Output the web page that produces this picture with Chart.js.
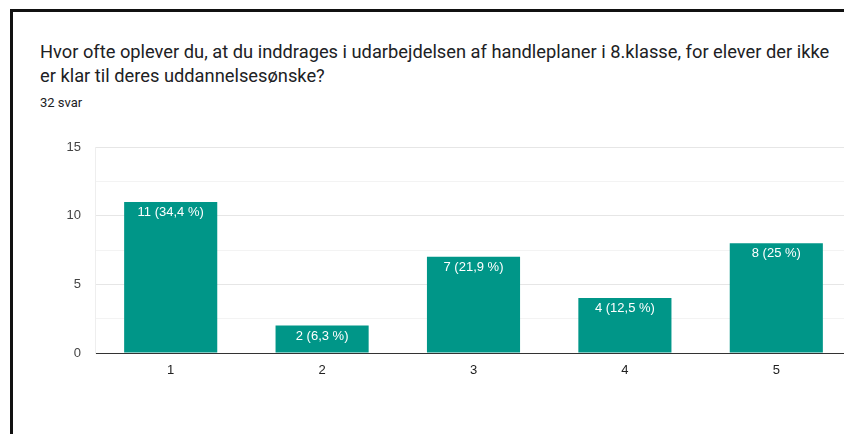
<!DOCTYPE html>
<html>
<head>
<meta charset="utf-8">
<script src="https://cdn.jsdelivr.net/npm/chart.js@4.4.0/dist/chart.umd.min.js"></script>
<style>
  html, body { margin: 0; padding: 0; background: #fff; overflow: hidden; width: 844px; height: 434px; }
  .ramme { position: absolute; left: 10px; top: 9px; width: 900px; height: 500px; border-top: 3px solid #111; border-left: 3px solid #111; }
  .titel { position: absolute; left: 40px; top: 39.5px; width: 810px; font-family: Roboto, sans-serif; font-size: 18.3px; line-height: 24.5px; color: #202124; white-space: nowrap; }
  .svar { position: absolute; left: 40px; top: 94.5px; font-family: Roboto, sans-serif; font-size: 13px; line-height: 16px; color: #202124; }
  #graf { position: absolute; left: 0; top: 125px; }
</style>
</head>
<body>
<div class="ramme"></div>
<div class="titel">Hvor ofte oplever du, at du inddrages i udarbejdelsen af handleplaner i 8.klasse, for elever der ikke<br>er klar til deres uddannelsesønske?</div>
<div class="svar">32 svar</div>
<canvas id="graf" width="880" height="309"></canvas>
<script>
const kategorier = ['1', '2', '3', '4', '5'];
const antal = [11, 2, 7, 4, 8];
const procent = ['34,4', '6,3', '21,9', '12,5', '25'];

// etiketter inde i toppen af hver søjle
const soejleTekst = {
  id: 'soejleTekst',
  afterDatasetsDraw(chart) {
    const ctx = chart.ctx;
    const meta = chart.getDatasetMeta(0);
    ctx.save();
    ctx.font = '13px "Liberation Sans", Arial, sans-serif';
    ctx.fillStyle = '#ffffff';
    ctx.textAlign = 'center';
    ctx.textBaseline = 'middle';
    meta.data.forEach((bar, i) => {
      ctx.fillText(`${antal[i]} (${procent[i]} %)`, bar.x, bar.y + 10.5);
    });
    ctx.restore();
  }
};

new Chart(document.getElementById('graf').getContext('2d'), {
  type: 'bar',
  data: {
    labels: kategorier,
    datasets: [{
      data: antal,
      backgroundColor: '#009688',
      barPercentage: 0.615,
      categoryPercentage: 1
    }]
  },
  options: {
    responsive: false,
    animation: false,
    layout: { padding: { left: 0, top: 22, right: 28, bottom: 51 } },
    plugins: {
      legend: { display: false },
      tooltip: { enabled: false }
    },
    scales: {
      x: {
        z: 1,
        afterFit: s => { s.height = 30; },
        grid: { display: false, drawTicks: false },
        border: { display: true, color: '#333333', width: 1 },
        ticks: {
          padding: 10,
          color: '#222222',
          font: { family: '"Liberation Sans", Arial, sans-serif', size: 13 }
        }
      },
      y: {
        min: 0,
        max: 15,
        afterFit: s => { s.width = 95; },
        border: { display: true, color: '#eeeeee' },
        grid: {
          drawTicks: false,
          color: c => (c.tick.value % 5 === 0 ? '#e6e6e6' : '#f3f3f3')
        },
        ticks: {
          stepSize: 2.5,
          padding: 14,
          color: '#444444',
          font: { family: '"Liberation Sans", Arial, sans-serif', size: 13 },
          callback: v => (v % 5 === 0 ? v : '')
        }
      }
    }
  },
  plugins: [soejleTekst]
});
</script>
</body>
</html>
